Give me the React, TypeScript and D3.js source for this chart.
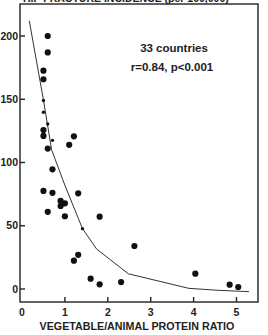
import React from 'react';
import * as d3 from 'd3';

// vegetable/animal protein ratio vs hip fracture incidence
const ratio = [0.6, 0.6, 0.5, 0.5, 0.5, 0.5, 0.6, 0.5, 0.5, 0.71, 0.6, 1.1, 1.21, 0.71,
  0.5, 0.71, 0.6, 0.9, 0.9, 1.0, 1.0, 1.31, 1.81, 1.41, 1.31, 1.21, 1.6, 1.81, 2.31,
  2.62, 4.04, 4.84, 5.04];
const incidence = [200, 187, 172.6, 165.8, 149, 139.7, 130.4, 125.7, 121, 117.5, 111, 114, 120.7, 94.6,
  77.5, 76, 61, 69.6, 65.6, 67.7, 57.5, 75.6, 57.2, 47.7, 27, 22.4, 8.2, 3.7, 5.5,
  34, 12.1, 3.4, 1.6];
const small = [false, false, false, false, true, true, true, false, false, true, false, false, false, false,
  false, false, false, false, false, false, false, false, false, true, false, false, false, false, false,
  false, false, false, false];

const fitX = [0.17, 0.5, 0.69, 1.0, 1.41, 1.74, 2.48, 3.89, 4.55, 5.29];
const fitY = [212, 149.5, 110, 82, 47.7, 31.6, 12, 0.5, -1, -2.1];

const xTicks = [0, 1, 2, 3, 4, 5];
const yTicks = [0, 50, 100, 150, 200];

const font = '"Liberation Sans", Arial, sans-serif';

export default function App() {
  const W = 268, H = 335;
  const left = 20, right = 258, top = 4, bottom = 302;
  const x = d3.scaleLinear().domain([0, 5]).range([22, 236.5]);
  const y = d3.scaleLinear().domain([0, 200]).range([289, 36]);

  const line = d3.line<number>().x((d, i) => x(fitX[i])).y((d) => y(d));

  return (
    <svg width={W} height={H} style={{ position: 'absolute', left: 0, top: 0 }}>
      <rect width={W} height={H} fill="#fff" />
      <text x={23} y={1.5} fontFamily={font} fontWeight="bold" fontSize={10.5} fill="#222">
        HIP FRACTURE INCIDENCE (per 100,000)
      </text>
      <rect x={left} y={top} width={right - left} height={bottom - top}
        fill="none" stroke="#222" strokeWidth={1.4} />

      {yTicks.map((t) => (
        <g key={'y' + t}>
          <line x1={left} x2={left + 5} y1={y(t)} y2={y(t)} stroke="#222" strokeWidth={1.4} />
          <text x={left - 2} y={y(t)} dy="0.35em" textAnchor="end" fontFamily={font}
            fontWeight="bold" fontSize={10.5} fill="#222">{t}</text>
        </g>
      ))}
      {xTicks.map((t) => (
        <g key={'x' + t}>
          {t > 0 && <line x1={x(t)} x2={x(t)} y1={bottom} y2={bottom - 5} stroke="#222" strokeWidth={1.4} />}
          <text x={x(t)} y={bottom + 14} textAnchor="middle" fontFamily={font}
            fontWeight="bold" fontSize={10.5} fill="#222">{t}</text>
        </g>
      ))}

      <path d={line(fitY) || ''} fill="none" stroke="#333" strokeWidth={1} />

      {ratio.map((r, i) => (
        <circle key={i} cx={x(r)} cy={y(incidence[i])} r={small[i] ? 1.7 : 3.1} fill="#111" />
      ))}

      <text x={174} y={52} textAnchor="middle" fontFamily={font} fontWeight="bold"
        fontSize={11.5} fill="#222">33 countries</text>
      <text x={172} y={71} textAnchor="middle" fontFamily={font} fontWeight="bold"
        fontSize={11.5} fill="#222">r=0.84, p&lt;0.001</text>

      <text x={137} y={330} textAnchor="middle" fontFamily={font} fontWeight="bold"
        fontSize={10.7} fill="#222">VEGETABLE/ANIMAL PROTEIN RATIO</text>
    </svg>
  );
}
